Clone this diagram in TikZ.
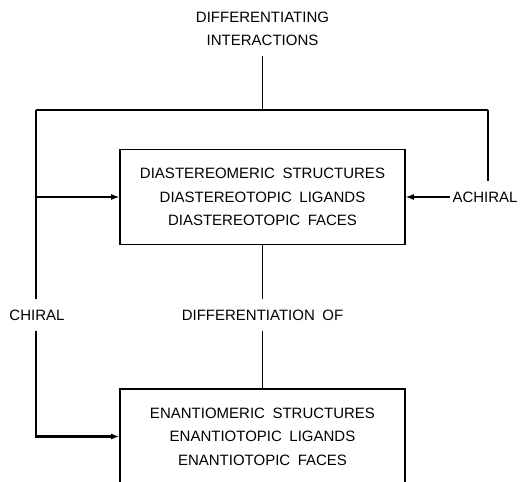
\documentclass[tikz,border=0pt]{standalone}
\usepackage{fontspec}
\setmainfont[WordSpace=1.8]{Liberation Sans}
\usetikzlibrary{arrows.meta, positioning}
\tikzset{
>={Latex[length=8pt, width=6pt]}, % filled arrow heads
every node/.style={font=\fontsize{15}{23.5}\selectfont}, % lettering of the whole chart
box/.style={draw, line width=1.6pt, minimum width=285pt, minimum height=95pt, align=center}, % the two boxes
tag/.style={inner xsep=2pt, inner ysep=10pt, align=center}, % free text, lines stop short of it
wire/.style={line width=1.2pt}, % ordinary connecting lines
}

\begin{document}
\begin{tikzpicture}[x=1pt, y=-1pt, on grid]
    \useasboundingbox (0,0) rectangle (529,481);
    \clip (0,0) rectangle (529,481);

    \node[box] (diast) at (262.5,197) {DIASTEREOMERIC STRUCTURES\\DIASTEREOTOPIC LIGANDS\\DIASTEREOTOPIC FACES};
    \node[tag, above=168.5pt of diast, font=\fontsize{15}{23}\selectfont] (inter) {DIFFERENTIATING\\INTERACTIONS};
    \node[tag, below=118pt of diast] (difof) {DIFFERENTIATION OF};
    \node[box, below=121.5pt of difof] (enant) {ENANTIOMERIC STRUCTURES\\ENANTIOTOPIC LIGANDS\\ENANTIOTOPIC FACES};
    \node[tag, left=225.5pt of difof] (chiral) {CHIRAL};
    \node[tag, right=222.5pt of diast] (achiral) {ACHIRAL};

    \coordinate (top) at (inter.south |- 0,110);
    \coordinate (topleft) at (36,110);
    \coordinate (topright) at (488,110);

    \draw[wire] (inter) -- (top);
    \draw[wire] (topleft) -- (topright);
    \draw[wire] (topright) -- (topright |- achiral.north);
    \draw[wire] (topleft) -- (topleft |- chiral.north);
    \draw[wire, ->] (topleft |- diast) -- (diast);
    \draw[wire, ->] (achiral) -- (diast);
    \draw[wire] (diast) -- (difof);
    \draw[wire] (difof) -- (enant);
    \draw[line width=2.4pt, ->] (topleft |- chiral.south) |- (enant);
  \end{tikzpicture}
\end{document}
